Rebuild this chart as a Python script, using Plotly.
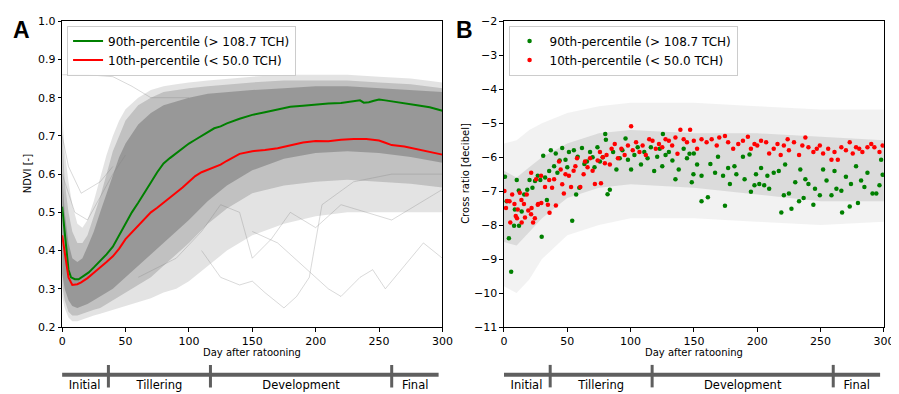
import plotly.graph_objects as go

# ---------------- Panel A data (NDVI) ----------------
green_a_x = [0, 1, 3, 5, 7, 10, 13, 17, 21, 25, 30, 35, 40, 45, 50, 55, 60, 65, 70, 75, 80, 85, 90, 95,
             100, 105, 110, 115, 120, 125, 130, 140, 150, 160, 170, 180, 190, 200, 210, 220, 230, 235,
             238, 242, 246, 250, 255, 260, 270, 280, 290, 300]
green_a_y = [0.515, 0.48, 0.41, 0.35, 0.33, 0.325, 0.325, 0.333, 0.343, 0.356, 0.372, 0.39, 0.41, 0.44,
             0.47, 0.50, 0.525, 0.55, 0.578, 0.605, 0.628, 0.642, 0.655, 0.668, 0.68, 0.69, 0.70, 0.71,
             0.72, 0.725, 0.733, 0.745, 0.755, 0.762, 0.768, 0.776, 0.779, 0.782, 0.785, 0.786, 0.79,
             0.793, 0.787, 0.788, 0.792, 0.795, 0.793, 0.79, 0.786, 0.78, 0.775, 0.766]

red_a_x = [0, 1, 3, 5, 8, 12, 15, 20, 25, 30, 35, 40, 45, 50, 55, 60, 65, 70, 75, 80, 85, 90, 95, 100,
           105, 110, 115, 120, 125, 130, 135, 140, 150, 160, 170, 180, 190, 200, 210, 220, 230, 240,
           250, 255, 260, 270, 280, 290, 300]
red_a_y = [0.44, 0.42, 0.37, 0.33, 0.31, 0.312, 0.317, 0.328, 0.342, 0.355, 0.37, 0.385, 0.405, 0.43,
           0.447, 0.465, 0.482, 0.50, 0.512, 0.525, 0.537, 0.55, 0.565, 0.58, 0.595, 0.605, 0.612,
           0.618, 0.625, 0.635, 0.645, 0.653, 0.66, 0.663, 0.668, 0.676, 0.683, 0.687, 0.686, 0.69,
           0.692, 0.692, 0.688, 0.682, 0.676, 0.672, 0.665, 0.658, 0.651]

# envelope of the grey NDVI trajectories (fringe / bulk / dense core)
band_a_x = [0, 2, 5, 8, 12, 16, 20, 25, 30, 35, 40, 45, 50, 60, 70, 80, 90, 100, 115, 130, 150, 175,
            200, 225, 250, 275, 300]
fringe_a_hi = [0.76, 0.66, 0.58, 0.52, 0.47, 0.46, 0.48, 0.53, 0.59, 0.65, 0.70, 0.74, 0.77, 0.80,
               0.82, 0.83, 0.835, 0.84, 0.845, 0.85, 0.855, 0.86, 0.86, 0.86, 0.855, 0.85, 0.84]
fringe_a_lo = [0.28, 0.25, 0.225, 0.215, 0.215, 0.22, 0.225, 0.23, 0.235, 0.24, 0.245, 0.25, 0.255,
               0.265, 0.275, 0.29, 0.30, 0.32, 0.36, 0.40, 0.44, 0.47, 0.49, 0.50, 0.50, 0.50, 0.50]
mid_a_hi = [0.72, 0.58, 0.50, 0.45, 0.42, 0.42, 0.44, 0.49, 0.54, 0.60, 0.66, 0.70, 0.74, 0.78, 0.80,
            0.815, 0.82, 0.825, 0.83, 0.835, 0.84, 0.845, 0.845, 0.845, 0.84, 0.835, 0.825]
mid_a_lo = [0.31, 0.27, 0.24, 0.23, 0.23, 0.235, 0.24, 0.245, 0.25, 0.26, 0.27, 0.28, 0.29, 0.31, 0.33,
            0.36, 0.39, 0.42, 0.47, 0.51, 0.55, 0.57, 0.58, 0.585, 0.58, 0.575, 0.565]
core_a_hi = [0.60, 0.50, 0.42, 0.38, 0.37, 0.38, 0.41, 0.45, 0.50, 0.55, 0.60, 0.645, 0.68, 0.73,
             0.76, 0.78, 0.79, 0.80, 0.81, 0.815, 0.82, 0.825, 0.83, 0.83, 0.825, 0.82, 0.815]
core_a_lo = [0.34, 0.30, 0.27, 0.255, 0.25, 0.255, 0.26, 0.27, 0.28, 0.29, 0.30, 0.315, 0.33, 0.36,
             0.39, 0.42, 0.45, 0.48, 0.53, 0.57, 0.61, 0.64, 0.655, 0.66, 0.655, 0.645, 0.63]

# a few individual stray trajectories
stray_x = [
    [0, 20, 40, 55, 70, 100],
    [110, 125, 140, 150, 160, 175, 185, 195, 205, 230, 260, 300],
    [150, 170, 190, 210, 220, 235, 245, 255, 270, 285, 300],
    [60, 90, 110, 125, 140, 150, 165, 180, 200, 220, 240, 260, 280, 300],
    [0, 5, 10, 20, 40, 50],
    [0, 5, 15, 30, 40],
]
stray_y = [
    [0.86, 0.86, 0.855, 0.83, 0.80, 0.80],
    [0.40, 0.33, 0.31, 0.32, 0.29, 0.25, 0.28, 0.33, 0.52, 0.58, 0.60, 0.60],
    [0.45, 0.42, 0.36, 0.30, 0.28, 0.33, 0.35, 0.30, 0.36, 0.42, 0.38],
    [0.33, 0.38, 0.45, 0.52, 0.50, 0.38, 0.43, 0.50, 0.46, 0.52, 0.50, 0.48, 0.52, 0.56],
    [0.60, 0.55, 0.50, 0.48, 0.60, 0.65],
    [0.70, 0.62, 0.55, 0.58, 0.62],
]

# ---------------- Panel B data (cross ratio) ----------------
green_b_x = [0.8, 2.1, 3.9, 5.7, 8.0, 8.6, 10.1, 11.7, 11.9, 14.0, 16.0, 18.4, 20.2, 22.5, 24.5, 26.7,
             28.7, 29.8, 31.0, 32.5, 33.9, 35.7, 37.0, 39.6,
             40.9, 42.2, 44.0, 46.0, 48.6, 50.0, 51.3, 53.9, 55.2, 57.0, 58.2, 59.5, 61.6, 63.5, 65.5,
             68.0, 70.0, 71.5, 73.8, 75.8, 78.0, 80.0, 80.5, 81.8, 83.6, 86.2, 88.8, 91.4, 93.5, 96.0, 97.9,
             100.4, 103.0, 105.6, 108.2, 110.8, 113.4, 116.0, 118.6, 121.0, 123.0, 125.0, 125.5, 127.6,
             130.2, 133.0, 135.4, 138.0, 141.9, 144.5, 146.5, 148.3, 149.6,
             149.9, 152.5, 156.0, 156.0, 161.0, 163.0, 166.7, 169.0, 173.0, 174.5, 177.0, 178.4, 182.0,
             183.5, 188.7, 190.0, 193.9, 195.0, 197.8, 199.0, 201.6, 203.0, 205.5, 208.0, 209.4, 213.0,
             217.0, 219.0, 221.0, 222.0, 225.0, 227.0, 230.0, 233.0, 234.0, 236.6, 238.0, 240.4, 244.3,
             245.6, 249.4, 252.0, 254.7, 258.6, 261.0, 262.5, 266.4, 267.0, 270.0, 273.0, 274.0, 278.0,
             279.5, 282.0, 284.6, 287.0, 291.0, 294.0, 296.5, 297.8, 299.0]
green_b_y = [-6.58, -7.3, -8.39, -9.37, -8.02, -7.54, -6.67, -6.98, -8.02, -7.6, -7.1, -6.96, -6.67,
             -6.9, -6.7, -6.55, -6.67, -8.34, -5.96, -6.6, -7.26, -6.41, -5.8, -6.27,
             -5.89, -6.46, -6.1, -5.73, -6.08, -6.3, -5.85, -7.87, -5.8, -7.1, -5.99, -6.9, -5.73, -6.2,
             -6.13, -5.85, -6.0, -6.3, -5.71, -6.13, -6.0, -5.32, -5.49, -7.09, -6.96, -5.85, -6.36,
             -6.03, -5.8, -5.45, -6.08,
             -6.36, -5.94, -5.71, -6.22, -5.85, -6.03, -5.71, -6.41, -5.99, -5.75, -6.27, -5.32, -5.94,
             -5.85, -6.1, -6.65, -6.36, -5.75, -6.03, -5.9, -6.74, -6.5,
             -5.89, -6.22, -6.55, -7.3, -7.18, -6.2, -6.46, -5.99, -6.55, -7.43, -6.32, -6.79, -6.27,
             -6.5, -5.99, -6.65, -5.92, -7.02, -6.83, -6.5, -6.79, -6.32, -6.83, -6.55, -6.93, -6.46,
             -6.41, -7.63, -7.12, -6.22, -7.07, -7.52, -6.74, -7.3, -6.36, -7.2, -6.65, -6.79, -7.4,
             -6.93, -7.12, -6.36, -6.69, -7.12, -6.41, -6.93, -6.99, -7.63, -6.58, -7.45, -6.79, -6.27,
             -7.35, -6.69, -6.88, -6.46, -7.07, -7.07, -6.83, -6.08, -6.52]

red_b_x = [0.4, 1.6, 2.5, 4.4, 5.0, 6.5, 8.3, 9.3, 10.3, 10.9, 12.5, 13.8, 14.0, 15.8, 16.6, 18.0,
           19.2, 21.4, 21.5, 21.8, 23.0, 24.4, 25.4, 26.7, 27.0, 29.3, 29.5, 32.4, 34.7, 35.7, 36.0,
           38.0, 39.6, 41.0,
           43.5, 44.8, 46.0, 47.3, 48.6, 51.3, 53.0, 55.0, 56.4, 57.7, 60.3, 62.9, 64.0, 66.0, 68.0,
           70.0, 71.8, 74.0, 75.8, 76.6, 78.0, 79.7, 81.0, 83.6, 85.0, 87.5, 90.0, 92.7, 95.3, 97.9,
           100.4, 101.7, 104.3, 107.0, 109.5, 112.0, 114.7, 117.3, 119.9, 122.4, 125.0, 127.6, 130.2,
           132.8, 135.4, 137.0, 139.3, 141.9, 144.5, 147.0,
           149.9, 152.5, 156.0, 160.0, 164.0, 168.0, 170.0, 174.5, 177.0, 181.0, 185.0, 188.7, 192.6,
           195.0, 197.8, 200.0, 203.0, 207.0, 209.4, 213.0, 216.0, 218.5, 221.0, 224.0, 225.0, 229.0,
           233.0, 235.6, 238.0, 240.4, 244.3, 247.0, 249.4, 252.0, 256.0, 258.6, 261.0, 263.6, 266.4,
           270.0, 273.0, 275.4, 278.0, 280.5, 283.0, 287.0, 290.0, 292.5, 296.5, 299.0]
red_b_y = [-7.0, -7.5, -7.29, -7.3, -7.92, -7.1, -7.38, -7.73, -7.8, -7.54, -7.05, -7.26, -7.92, -7.38,
           -7.78, -7.1, -7.57, -7.68, -6.46, -7.5, -7.92, -7.8, -6.65, -7.4, -7.38, -6.55, -7.35, -6.88,
           -7.4, -6.67, -7.64, -6.9, -6.65, -7.42,
           -6.13, -6.36, -6.8, -7.07, -6.5, -6.55, -6.88, -6.4, -6.27, -6.03, -6.88, -6.5, -6.13, -6.3,
           -6.03, -6.4, -6.79, -6.1, -5.85, -6.77, -6.0, -6.18, -5.94, -6.22, -5.75, -5.61, -6.03,
           -5.75, -5.94, -5.66,
           -5.09, -5.8, -5.56, -5.85, -5.66, -5.94, -5.47, -5.52, -5.75, -5.61, -5.71, -5.47, -5.52,
           -5.66, -5.42, -5.9, -5.19, -5.47, -5.56, -5.19,
           -5.52, -5.75, -5.47, -5.56, -5.47, -5.66, -5.42, -5.38, -5.56, -5.75, -5.61, -5.52, -5.4,
           -5.75, -5.61, -5.66, -5.52, -5.56, -5.89, -5.75, -5.61, -5.94, -5.66, -5.47, -5.8, -5.56,
           -5.94, -5.66, -5.42, -5.71, -5.85, -5.75, -5.66, -5.89, -5.75, -6.08, -5.85, -6.08, -5.71,
           -5.8, -5.56, -5.89, -5.71, -5.75, -5.85, -5.71, -5.61, -5.71, -5.85, -5.66]

# envelope of the grey point cloud (all fields)
band_b_x = [0, 10, 20, 30, 50, 75, 100, 150, 200, 250, 300]
outer_b_hi = [-5.6, -5.5, -5.2, -5.0, -4.7, -4.5, -4.4, -4.4, -4.5, -4.6, -4.6]
outer_b_lo = [-9.8, -10.0, -9.6, -9.0, -8.3, -8.0, -7.8, -7.8, -7.9, -8.0, -7.9]
core_b_hi = [-6.4, -6.6, -6.3, -6.0, -5.6, -5.3, -5.2, -5.3, -5.3, -5.4, -5.5]
core_b_lo = [-8.5, -8.6, -8.2, -7.8, -7.2, -6.9, -6.8, -6.9, -7.1, -7.3, -7.3]

# ---------------- growth phases ----------------
phase_names = ["Initial", "Tillering", "Development", "Final"]
phase_bounds = [-1, 36.5, 117, 260, 297]

# ---------------- axis ticks ----------------
ndvi_ticks = [0.2, 0.3, 0.4, 0.5, 0.6, 0.7, 0.8, 0.9, 1.0]
cr_ticks = [-2, -3, -4, -5, -6, -7, -8, -9, -10, -11]
day_ticks = [0, 50, 100, 150, 200, 250, 300]

GREEN = "#008000"
RED = "#ff0000"
FONT = "DejaVu Sans"
W, H = 899, 394

fig = go.Figure()


def band(x, lo, hi, color, xa, ya):
    fig.add_trace(go.Scatter(x=x, y=lo, mode="lines", line=dict(width=0), hoverinfo="skip",
                             showlegend=False, xaxis=xa, yaxis=ya))
    fig.add_trace(go.Scatter(x=x, y=hi, mode="lines", line=dict(width=0), fill="tonexty",
                             fillcolor=color, hoverinfo="skip", showlegend=False, xaxis=xa, yaxis=ya))


# Panel A
band(band_a_x, fringe_a_lo, fringe_a_hi, "rgba(128,128,128,0.22)", "x", "y")
band(band_a_x, mid_a_lo, mid_a_hi, "rgba(128,128,128,0.35)", "x", "y")
band(band_a_x, core_a_lo, core_a_hi, "rgba(128,128,128,0.62)", "x", "y")
for sx, sy in zip(stray_x, stray_y):
    fig.add_trace(go.Scatter(x=sx, y=sy, mode="lines", line=dict(color="rgba(128,128,128,0.3)", width=1),
                             showlegend=False, hoverinfo="skip", xaxis="x", yaxis="y"))
fig.add_trace(go.Scatter(x=green_a_x, y=green_a_y, mode="lines", line=dict(color=GREEN, width=2),
                         name="90th-percentile (> 108.7 TCH)", legend="legend", xaxis="x", yaxis="y"))
fig.add_trace(go.Scatter(x=red_a_x, y=red_a_y, mode="lines", line=dict(color=RED, width=2),
                         name="10th-percentile (< 50.0 TCH)", legend="legend", xaxis="x", yaxis="y"))

# Panel B
band(band_b_x, outer_b_lo, outer_b_hi, "rgba(150,150,150,0.12)", "x2", "y2")
band(band_b_x, core_b_lo, core_b_hi, "rgba(150,150,150,0.25)", "x2", "y2")
fig.add_trace(go.Scatter(x=green_b_x, y=green_b_y, mode="markers", marker=dict(color=GREEN, size=4.5),
                         name="90th-percentile (> 108.7 TCH)", legend="legend2", xaxis="x2", yaxis="y2"))
fig.add_trace(go.Scatter(x=red_b_x, y=red_b_y, mode="markers", marker=dict(color=RED, size=4.5),
                         name="10th-percentile (< 50.0 TCH)", legend="legend2", xaxis="x2", yaxis="y2"))

# Phase bars
BAR_Y, SEP_LO, SEP_HI, LAB_Y = 0.533, 0.20, 0.79, 0.23
mids = [(phase_bounds[i] + phase_bounds[i + 1]) / 2 for i in range(len(phase_names))]
for xa, ya in (("x3", "y3"), ("x4", "y4")):
    fig.add_trace(go.Scatter(x=[phase_bounds[0], phase_bounds[-1]], y=[BAR_Y, BAR_Y], mode="lines",
                             line=dict(color="#5f5f5f", width=4), showlegend=False, hoverinfo="skip",
                             xaxis=xa, yaxis=ya))
    for b in phase_bounds[1:-1]:
        fig.add_trace(go.Scatter(x=[b, b], y=[SEP_LO, SEP_HI], mode="lines",
                                 line=dict(color="#5f5f5f", width=3), showlegend=False, hoverinfo="skip",
                                 xaxis=xa, yaxis=ya))
    fig.add_trace(go.Scatter(x=mids, y=[LAB_Y] * 4, mode="text", text=phase_names,
                             textfont=dict(family=FONT, size=11.5, color="black"), textposition="middle center",
                             showlegend=False, hoverinfo="skip", xaxis=xa, yaxis=ya))

dom_a = [51 / W, 437.7 / W]
dom_b = [500.3 / W, 886.7 / W]
dom_y = [1 - 323.7 / H, 1 - 7.5 / H]

axis_common = dict(showline=True, mirror=True, linecolor="black", linewidth=1, ticks="outside",
                   ticklen=3.5, tickcolor="black", tickfont=dict(family=FONT, size=11, color="black"),
                   showgrid=False, zeroline=False, ticklabeloverflow="allow")

legend_common = dict(y=1 - 12 / H, xanchor="left", yanchor="top", bgcolor="rgba(255,255,255,0.85)",
                     bordercolor="#cccccc", borderwidth=1, font=dict(family=FONT, size=12, color="black"),
                     itemwidth=30, traceorder="normal")

fig.update_layout(
    width=W, height=H, margin=dict(l=0, r=0, t=0, b=0),
    paper_bgcolor="white", plot_bgcolor="white",
    font=dict(family=FONT, size=10, color="black"),
    xaxis=dict(domain=dom_a, range=[0, 300], tickvals=day_ticks, anchor="y", **axis_common),
    yaxis=dict(domain=dom_y, range=[0.2, 1.0], tickvals=ndvi_ticks,
               ticktext=[f"{v:.1f}" for v in ndvi_ticks], anchor="x", **axis_common),
    xaxis2=dict(domain=dom_b, range=[0, 300], tickvals=day_ticks, anchor="y2", **axis_common),
    yaxis2=dict(domain=dom_y, range=[-11, -2], tickvals=cr_ticks,
                ticktext=[str(v).replace("-", "\u2212") for v in cr_ticks], anchor="x2", **axis_common),
    xaxis3=dict(domain=dom_a, range=[0, 300], visible=False, anchor="y3"),
    yaxis3=dict(domain=[0, 0.1], range=[0, 1], visible=False, anchor="x3"),
    xaxis4=dict(domain=dom_b, range=[0, 300], visible=False, anchor="y4"),
    yaxis4=dict(domain=[0, 0.1], range=[0, 1], visible=False, anchor="x4"),
    legend=dict(x=56 / W, **legend_common),
    legend2=dict(x=505 / W, **legend_common),
    showlegend=True,
)

annotations = [
    dict(text="<b>A</b>", x=10 / W, y=1 - 17 / H, font=dict(family="Liberation Sans", size=23, color="black")),
    dict(text="<b>B</b>", x=460 / W, y=1 - 17 / H, font=dict(family="Liberation Sans", size=23, color="black")),
    dict(text="Day after ratooning", x=(dom_a[0] + dom_a[1]) / 2, y=1 - 350 / H, font=dict(family=FONT, size=10)),
    dict(text="Day after ratooning", x=(dom_b[0] + dom_b[1]) / 2, y=1 - 350 / H, font=dict(family=FONT, size=10)),
    dict(text="NDVI [-]", x=16 / W, y=1 - 165 / H, textangle=-90, font=dict(family=FONT, size=10)),
    dict(text="Cross ratio [decibel]", x=461 / W, y=1 - 165 / H, textangle=-90, font=dict(family=FONT, size=10)),
]
for a in annotations:
    fig.add_annotation(xref="paper", yref="paper", showarrow=False, xanchor="center", yanchor="middle", **a)

fig.write_html("out.html")
